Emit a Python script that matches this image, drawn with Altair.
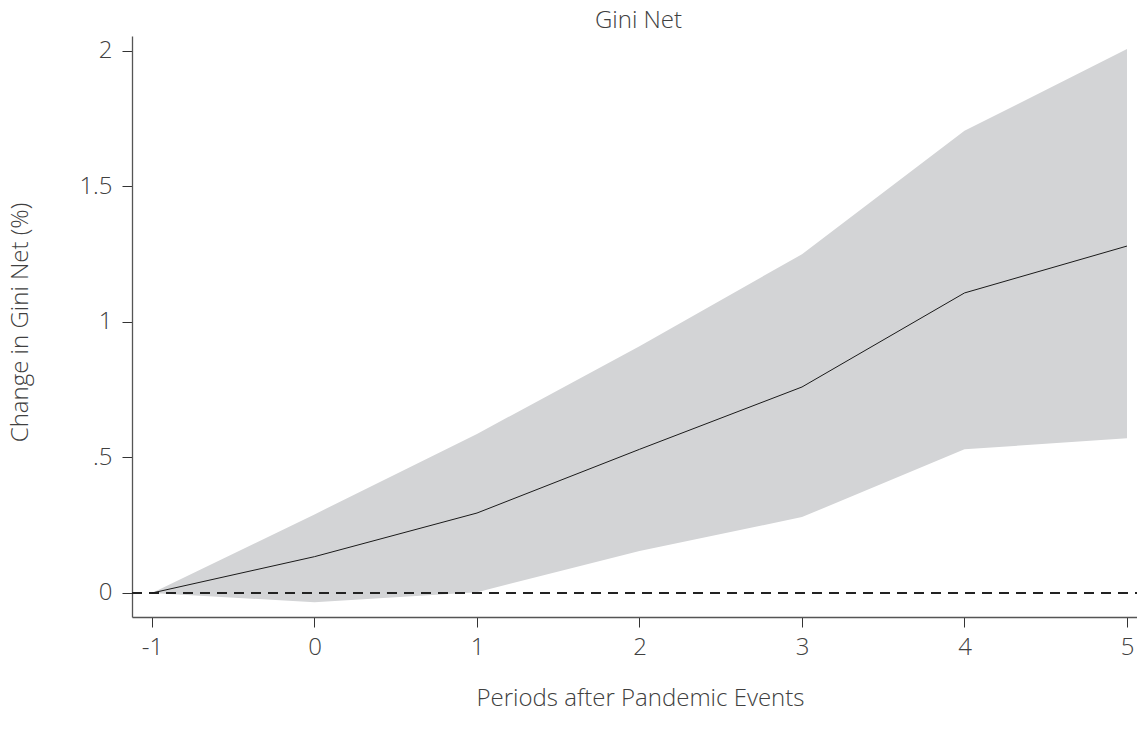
import altair as alt
import pandas as pd

periods = [-1, 0, 1, 2, 3, 4, 5]
estimate = [0.0, 0.134, 0.295, 0.53, 0.76, 1.107, 1.28]
upper = [0.0, 0.29, 0.587, 0.91, 1.25, 1.705, 2.007]
lower = [0.0, -0.034, 0.003, 0.155, 0.28, 0.53, 0.571]
x_ticks = [-1, 0, 1, 2, 3, 4, 5]
y_ticks = [0, 0.5, 1, 1.5, 2]

df = pd.DataFrame({"period": periods, "est": estimate, "hi": upper, "lo": lower})

W, H = 1005, 581
FONT = "Open Sans"
TXT = "#404040"
FS = 24

xscale = alt.Scale(domain=[-1.123, -1.123 + W / 162.5], nice=False, zero=False)
yscale = alt.Scale(domain=[-0.0886, 2.055], nice=False, zero=False)

xaxis = alt.Axis(values=x_ticks, title="Periods after Pandemic Events", grid=False,
                 labelExpr="datum.value < 0 ? '-' + abs(datum.value) : '' + datum.value",
                 domainColor="#555555", domainWidth=1.3, tickColor="#333333", tickSize=10,
                 labelPadding=8, labelFontSize=FS, labelFont=FONT, labelFontWeight=300,
                 labelColor=TXT, titleFont=FONT, titleFontWeight=300, titleFontSize=FS,
                 titleColor=TXT, titleY=81, titleBaseline="middle", titleX=508)
yaxis = alt.Axis(values=y_ticks, title="Change in Gini Net (%)", grid=False,
                 labelExpr="datum.value == 0.5 ? '.5' : format(datum.value, '~g')",
                 domainColor="#555555", domainWidth=1.3, tickColor="#333333", tickSize=10,
                 labelPadding=10, labelFontSize=FS, labelFont=FONT, labelFontWeight=300,
                 labelColor=TXT, titleFont=FONT, titleFontWeight=300, titleFontSize=FS,
                 titleColor=TXT, titleX=-112, titleY=286, titleAngle=-90,
                 titleBaseline="middle", titleAlign="center")

base = alt.Chart(df)
band = base.mark_area(color="#d3d4d6", opacity=1).encode(
    x=alt.X("period:Q", scale=xscale, axis=xaxis),
    y=alt.Y("lo:Q", scale=yscale, axis=yaxis),
    y2="hi:Q",
)
zero = base.mark_rule(color="#222222", strokeWidth=1, strokeDash=[10, 7]).encode(
    x=alt.value(0), x2=alt.value(W), y=alt.datum(0, scale=yscale)
)
line = base.mark_line(color="#1a1a1a", strokeWidth=1).encode(
    x=alt.X("period:Q", scale=xscale),
    y=alt.Y("est:Q", scale=yscale),
)

chart = alt.layer(band, zero, line).properties(
    width=W, height=H,
    title=alt.TitleParams("Gini Net", font=FONT, fontWeight=300, fontSize=FS, color=TXT,
                          anchor="middle", offset=3, dx=4),
    padding={"left": 124, "top": 28, "right": 0, "bottom": 100},
    autosize=alt.AutoSizeParams(type="none"),
).configure_view(stroke=None)

chart.save("out.html", embed_options={"renderer": "svg", "actions": False})
